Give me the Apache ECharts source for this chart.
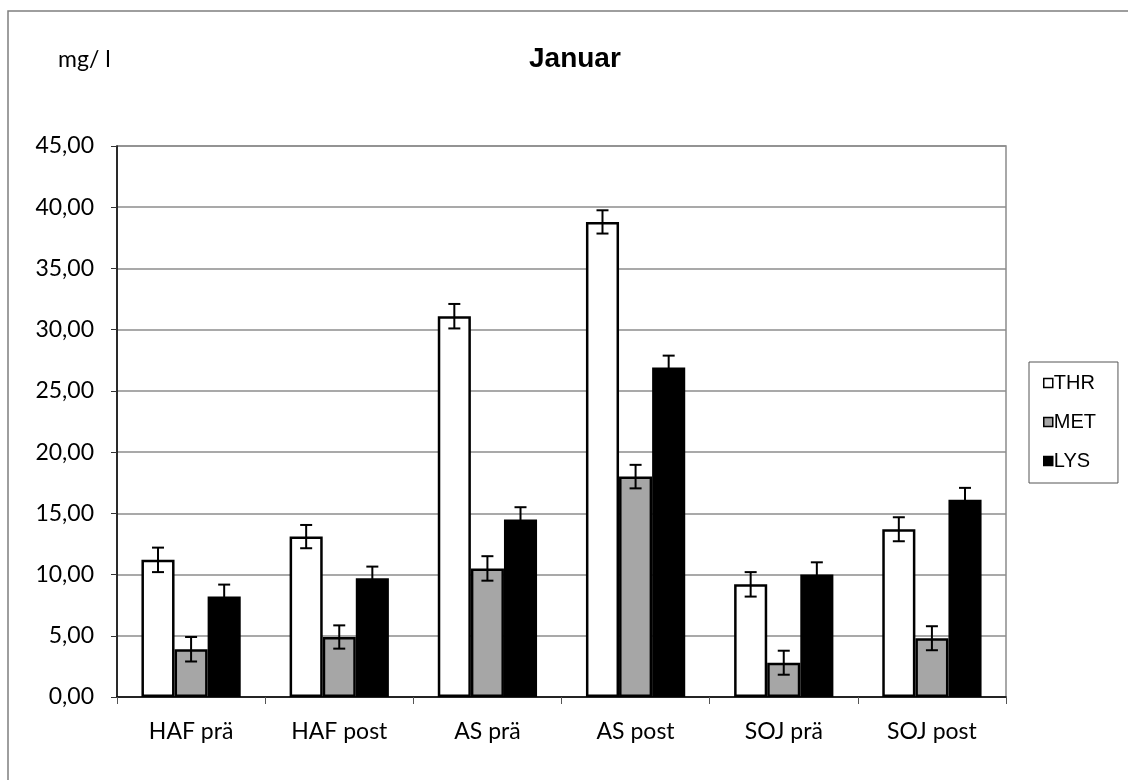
<!DOCTYPE html>
<html>
<head>
<meta charset="utf-8">
<script src="https://cdn.jsdelivr.net/npm/echarts@6/dist/echarts.min.js"></script>
<style>
html,body{margin:0;padding:0;background:#fff;}
#chart{width:1128px;height:780px;}
</style>
</head>
<body>
<div id="chart"></div>
<script>
const categories = ['HAF prä', 'HAF post', 'AS prä', 'AS post', 'SOJ prä', 'SOJ post'];
const thr = [11.2, 13.1, 31.1, 38.8, 9.2, 13.7];
const met = [3.9, 4.9, 10.5, 18.0, 2.8, 4.8];
const lys = [8.2, 9.7, 14.5, 26.9, 10.0, 16.1];
const thrErr = [1.0, 0.95, 1.0, 0.95, 1.0, 0.98];
const metErr = [1.0, 0.95, 1.0, 0.96, 0.98, 0.98];
const lysErr = [0.98, 0.95, 1.0, 0.98, 1.0, 0.98];
const seriesNames = ['THR', 'MET', 'LYS'];
const seriesColors = ['#ffffff', '#a6a6a6', '#000000'];

const values = [thr, met, lys];
const errs = [thrErr, metErr, lysErr];
const errData = [];
values.forEach((arr, s) => arr.forEach((v, i) => errData.push([i, v, errs[s][i], s])));

const chart = echarts.init(document.getElementById('chart'));
const tickFont = 'Lato, "DejaVu Sans", sans-serif';

const barSeries = seriesNames.map((n, s) => ({
  name: n,
  type: 'bar',
  data: values[s],
  barGap: '0%',
  barCategoryGap: '33%',
  itemStyle: { color: seriesColors[s], borderColor: '#000', borderWidth: 2.5 },
  emphasis: { disabled: true },
  z: 2
}));

const errSeries = {
  name: 'err',
  type: 'custom',
  data: errData,
  encode: { x: 0, y: 1 },
  z: 5,
  silent: true,
  renderItem: function (params, api) {
    const ci = api.value(0), v = api.value(1), e = api.value(2), s = api.value(3);
    const band = api.size([1, 0])[0];
    const bw = band * 0.67 / 3;
    const c = api.coord([ci, v]);
    const x = c[0] + (s - 1) * bw;
    const yt = api.coord([ci, v + e])[1];
    const yb = api.coord([ci, v - e])[1];
    const cap = 6;
    const st = { stroke: '#000', lineWidth: 2, fill: null };
    return {
      type: 'group',
      children: [
        { type: 'line', shape: { x1: x, y1: yt, x2: x, y2: yb }, style: st },
        { type: 'line', shape: { x1: x - cap, y1: yt, x2: x + cap, y2: yt }, style: st },
        { type: 'line', shape: { x1: x - cap, y1: yb, x2: x + cap, y2: yb }, style: st }
      ]
    };
  }
};

chart.setOption({
  animation: false,
  backgroundColor: '#ffffff',
  title: [
    { text: 'Januar', left: 529, top: 45, padding: 0,
      textStyle: { fontFamily: '"Liberation Sans", Arial, sans-serif', fontWeight: 'bold', fontSize: 28, color: '#000' } },
    { text: 'mg/ l', left: 58, top: 48, padding: 0,
      textStyle: { fontFamily: tickFont, fontWeight: 'normal', fontSize: 23, color: '#000' } }
  ],
  legend: {
    data: seriesNames,
    orient: 'vertical',
    left: 1029,
    top: 362,
    padding: [11, 22, 12, 14],
    itemGap: 19,
    itemWidth: 9,
    itemHeight: 9,
    icon: 'rect',
    borderColor: '#555',
    borderWidth: 1,
    itemStyle: { borderWidth: 1.5, borderColor: '#000' },
    textStyle: { fontFamily: '"Liberation Sans", Arial, sans-serif', fontSize: 20, color: '#000', padding: [0, 0, 0, -4] },
    selectedMode: false
  },
  graphic: [
    { type: 'rect', shape: { x: 8, y: 11, width: 1200, height: 800 },
      style: { fill: null, stroke: '#7f7f7f', lineWidth: 1.5 }, silent: true, z: -10 }
  ],
  grid: {
    left: 117, right: 122, top: 146, bottom: 83,
    show: true, borderColor: '#8c8c8c', borderWidth: 1.5, backgroundColor: 'transparent'
  },
  xAxis: {
    type: 'category',
    data: categories,
    axisLine: { lineStyle: { color: '#000', width: 1.5 } },
    axisTick: { show: true, length: 7, lineStyle: { color: '#555' } },
    axisLabel: { fontFamily: tickFont, fontSize: 23, color: '#000', margin: 23 },
    splitLine: { show: false }
  },
  yAxis: {
    type: 'value',
    min: 0, max: 45, interval: 5,
    axisLine: { show: true, lineStyle: { color: '#000', width: 1.5 } },
    axisTick: { show: true, length: 6, lineStyle: { color: '#333' } },
    axisLabel: { fontFamily: tickFont, fontSize: 23, color: '#000', margin: 23,
      formatter: v => v.toFixed(2).replace('.', ',') },
    splitLine: { show: true, lineStyle: { color: '#8c8c8c', width: 1.5 } }
  },
  series: [...barSeries, errSeries]
});
</script>
</body>
</html>
